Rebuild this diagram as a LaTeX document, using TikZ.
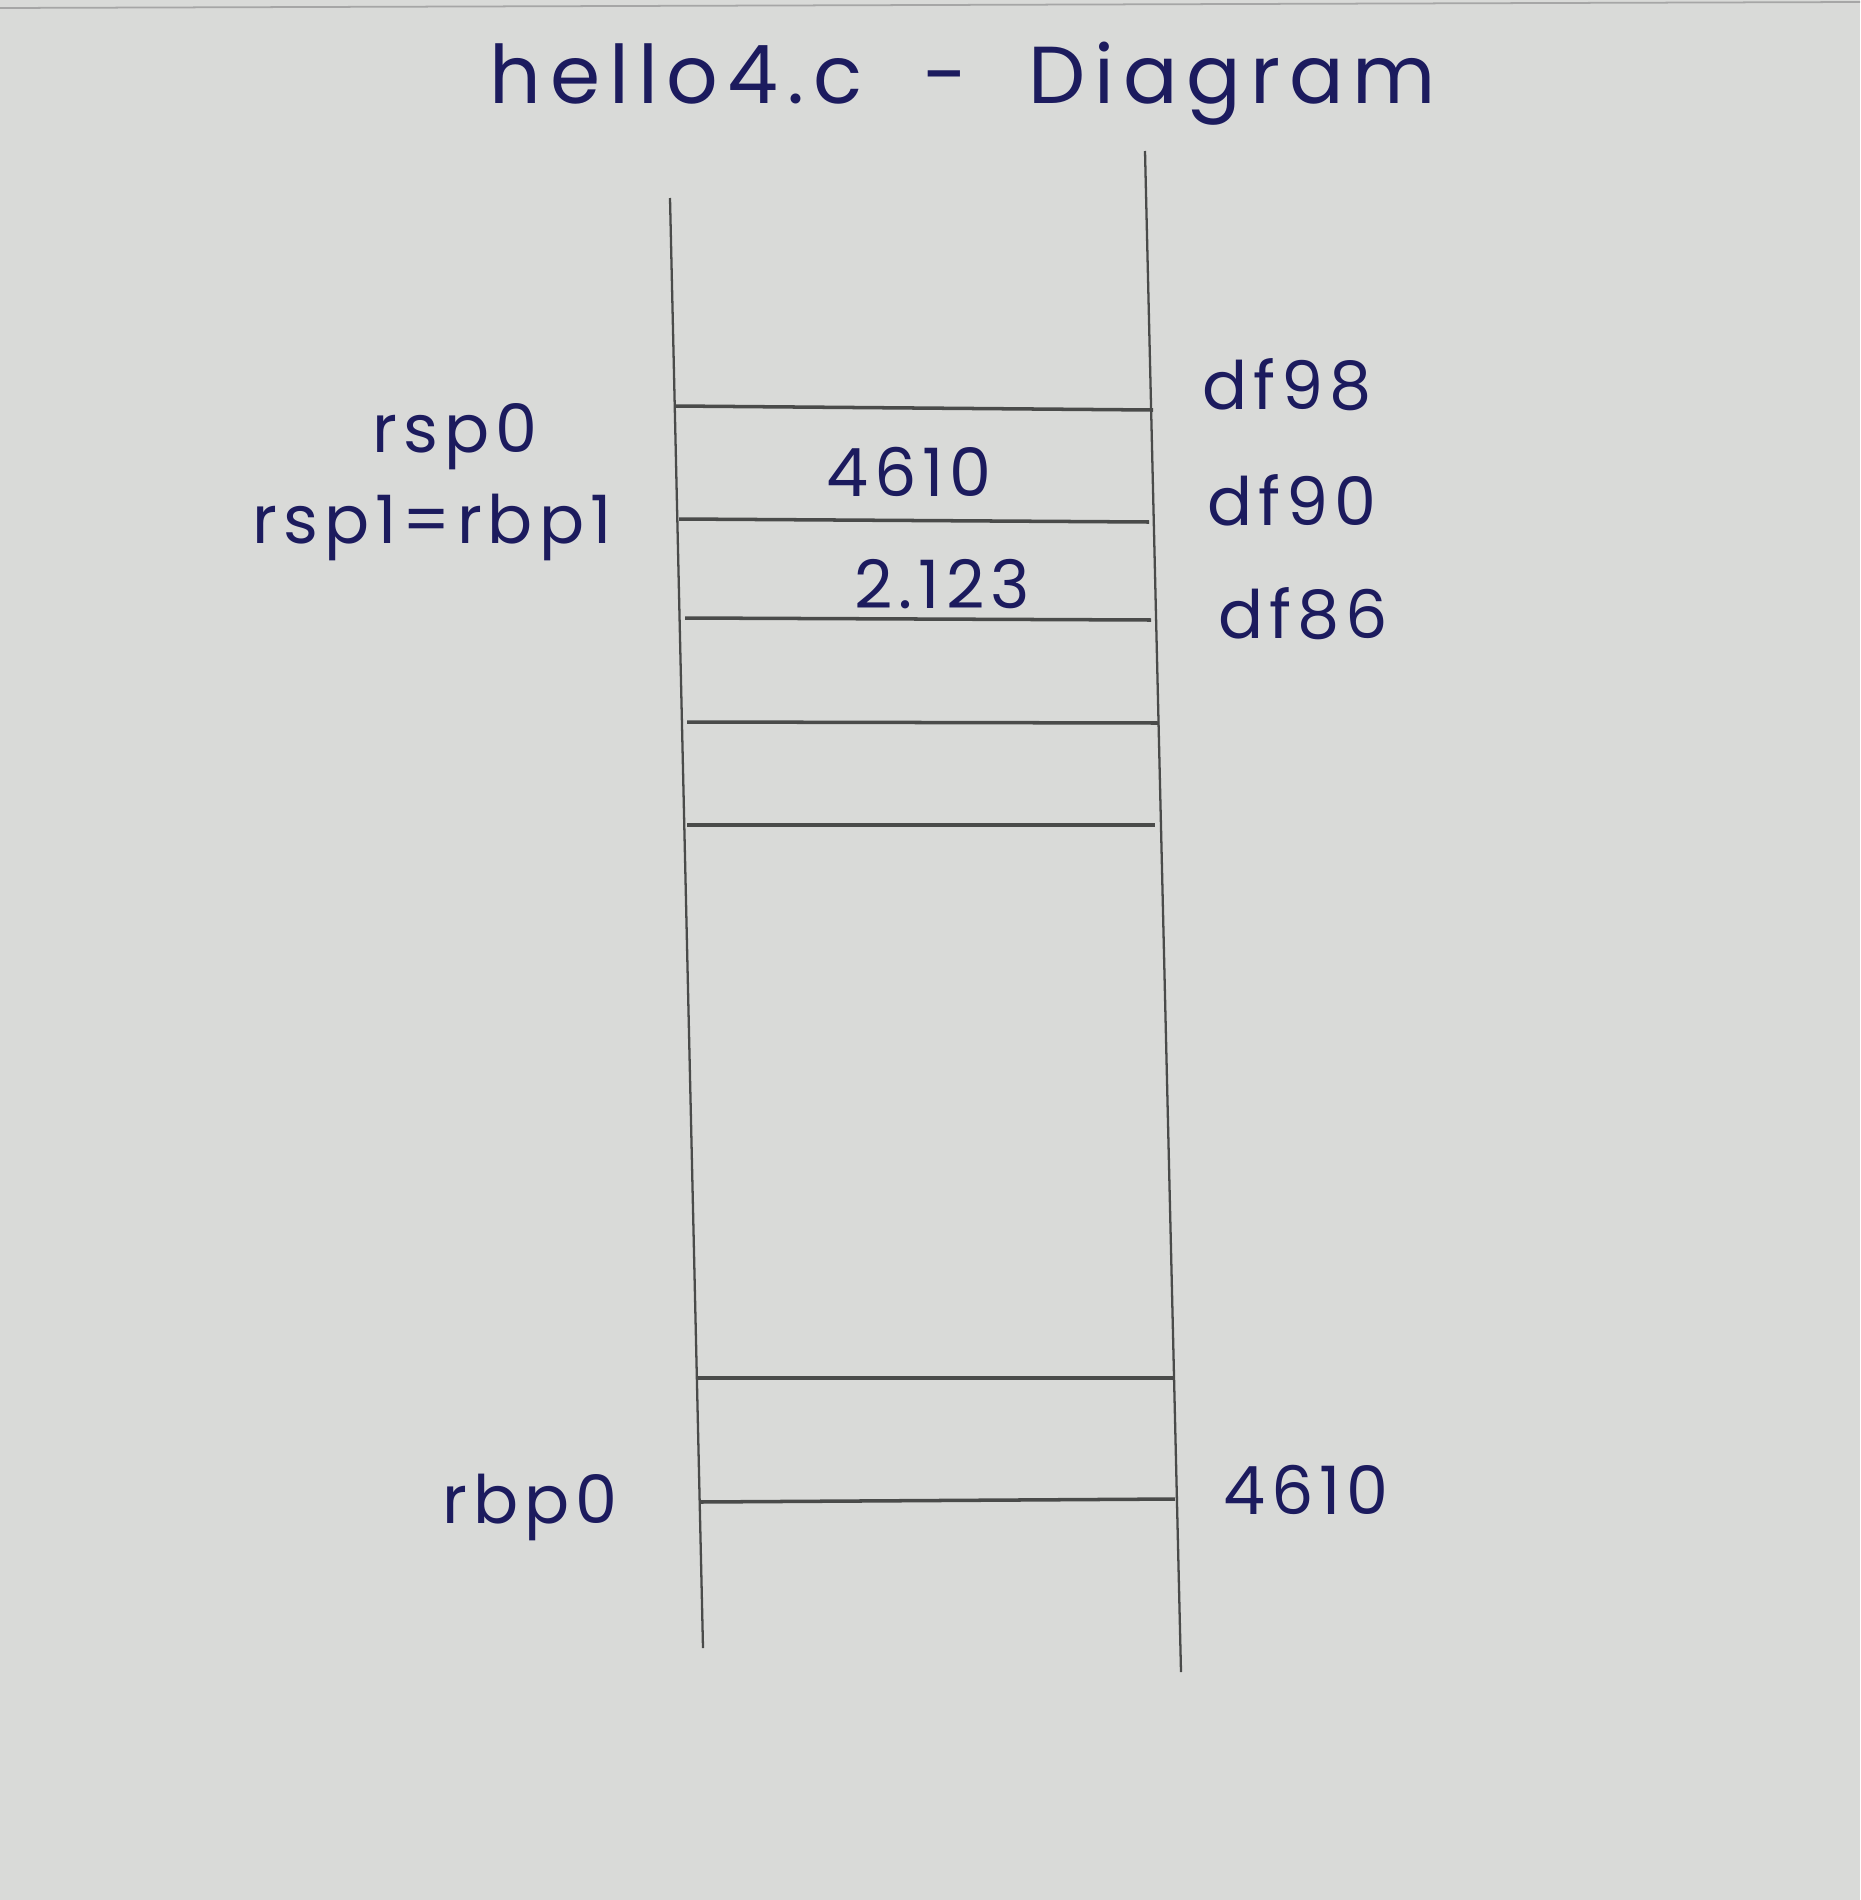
\documentclass[tikz,border=0pt]{standalone}
\usepackage{fontspec}
\setmainfont[LetterSpace=9]{Poppins}
\definecolor{paper}{HTML}{D9DAD8}
\definecolor{ink}{HTML}{1C1B5E}
\definecolor{pencil}{HTML}{4A4B4A}
\begin{document}
\begin{tikzpicture}[x=0.02cm,y=-0.02cm,
  lbl/.style={text=ink,font=\fontsize{38}{40}\selectfont,inner sep=0pt},
  ttl/.style={text=ink,font=\fontsize{46}{50}\selectfont\addfontfeatures{LetterSpace=11},inner sep=0pt},
  vline/.style={draw=pencil,line width=1.3pt},
  hline/.style={draw=pencil,line width=2pt}]
\fill[paper] (0,0) rectangle (1860,1900);
\useasboundingbox (0,0) rectangle (1860,1900);
\draw[draw=gray!70,line width=1pt] (0,8) -- (1860,2);
% title
\node[ttl] (title) at (963,84) {hello4.c\ \ -\ \ Diagram};
% verticals
\coordinate (lt) at (670,198); \coordinate (lb) at (703,1648);
\coordinate (rt) at (1145,151); \coordinate (rb) at (1181,1672);
\draw[vline] (lt) -- (lb);
\draw[vline] (rt) -- (rb);
% horizontals
\draw[hline] (675,406) -- (1153,410);
\draw[hline] (679,519) -- (1149,522);
\draw[hline] (685,618) -- (1151,620);
\draw[hline] (687,722) -- (1159,723);
\draw[hline] (687,825) -- (1155,825);
\draw[hline] (697,1378) -- (1173,1378);
\draw[hline] (699,1502) -- (1175,1499);
% labels
\node[lbl] (rsp0) at (455,437) {rsp0};
\node[lbl] (rsp1) at (432,527) {rsp1=rbp1};
\node[lbl] (v4610) at (909,472) {4610};
\node[lbl] (v2123) at (942,584) {2.123};
\node[lbl] (df98) at (1287,385) {df98};
\node[lbl] (df90) at (1292,500) {df90};
\node[lbl] (df86) at (1303,614) {df86};
\node[lbl] (rbp0) at (530,1507) {rbp0};
\node[lbl] (r4610) at (1306,1490) {4610};
\end{tikzpicture}
\end{document}
